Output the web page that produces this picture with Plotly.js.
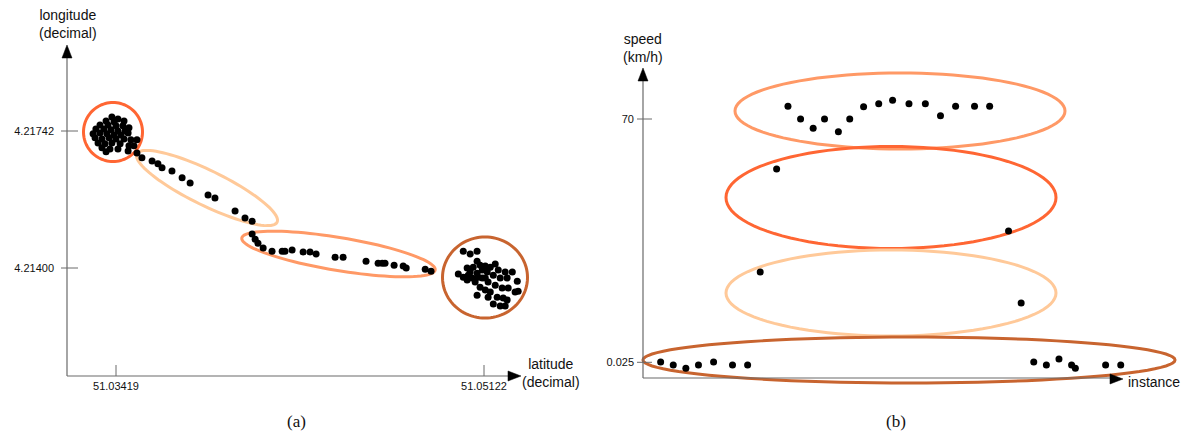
<!DOCTYPE html>
<html><head><meta charset="utf-8">
<script src="https://cdn.plot.ly/plotly-3.0.1.min.js"></script>
<style>html,body{margin:0;padding:0;background:#fff}</style>
</head><body><div id="chart" style="width:1192px;height:437px"></div>
<script>
// ---------- data (a): GPS positions ----------
const stop1Lat = [51.03400,51.03428,51.03373,51.03410,51.03456,51.03345,51.03382,51.03419,51.03451,51.03479,51.03326,51.03363,51.03396,51.03428,51.03461,51.03313,51.03345,51.03377,51.03410,51.03442,51.03475,51.03322,51.03354,51.03387,51.03419,51.03456,51.03488,51.03516,51.03336,51.03368,51.03400,51.03438,51.03479,51.03502,51.03354,51.03391,51.03428,51.03373,51.03475];
const stop1Lon = [4.21777,4.21772,4.21767,4.21765,4.21767,4.21757,4.21757,4.21755,4.21755,4.21750,4.21747,4.21747,4.21745,4.21742,4.21742,4.21735,4.21737,4.21735,4.21732,4.21732,4.21737,4.21725,4.21722,4.21725,4.21722,4.21722,4.21720,4.21720,4.21712,4.21710,4.21712,4.21710,4.21705,4.21705,4.21700,4.21697,4.21697,4.21690,4.21692];
const trailLat = [51.03516,51.03539,51.03586,51.03613,51.03632,51.03678,51.03725,51.03762,51.03845,51.03877,51.03970,51.04016,51.04049];
const trailLon = [4.21687,4.21675,4.21667,4.21660,4.21650,4.21642,4.21625,4.21612,4.21582,4.21575,4.21542,4.21525,4.21517];
const trackLat = [51.04049,51.04063,51.04076,51.04100,51.04141,51.04188,51.04201,51.04234,51.04285,51.04317,51.04345,51.04433,51.04470,51.04576,51.04632,51.04651,51.04664,51.04706,51.04748,51.04762,51.04850,51.04877];
const trackLon = [4.21485,4.21472,4.21462,4.21450,4.21442,4.21442,4.21442,4.21445,4.21440,4.21440,4.21435,4.21427,4.21427,4.21417,4.21412,4.21412,4.21412,4.21407,4.21405,4.21400,4.21397,4.21392];
const stop2Lat = [51.05026,51.05058,51.05090,51.05090,51.05044,51.05003,51.05026,51.05058,51.05072,51.05104,51.05128,51.05151,51.05174,51.05188,51.05220,51.05229,51.05197,51.05165,51.05137,51.05114,51.05090,51.05067,51.05044,51.05081,51.05114,51.05141,51.05174,51.05206,51.05234,51.05266,51.05280,51.05104,51.05128,51.05151,51.05183,51.05211,51.05229,51.05165,51.05197,51.05220,51.05090,51.05141,51.05049,51.05128,51.05095,51.05253,51.05276];
const stop2Lon = [4.21442,4.21435,4.21442,4.21417,4.21400,4.21385,4.21377,4.21390,4.21402,4.21407,4.21405,4.21402,4.21410,4.21395,4.21390,4.21375,4.21375,4.21382,4.21390,4.21395,4.21387,4.21375,4.21370,4.21365,4.21375,4.21365,4.21357,4.21350,4.21350,4.21340,4.21342,4.21352,4.21345,4.21340,4.21327,4.21325,4.21320,4.21310,4.21305,4.21305,4.21332,4.21327,4.21382,4.21375,4.21377,4.21390,4.21367];
const latTicks = [51.03419, 51.05122];
const latTickLabels = ['51.03419', '51.05122'];
const lonTicks = [4.21400, 4.21742];
const lonTickLabels = ['4.21400', '4.21742'];

// ---------- data (b): speed per instance ----------
const instance = [1.4,2.4,3.4,4.4,5.6,7.1,8.3,9.3,10.6,11.5,12.5,13.5,14.4,15.5,16.4,17.5,18.7,19.8,21.1,22.4,23.6,24.8,26.3,27.5,29.0,30.0,31.0,32.0,33.0,34.0,34.3,36.7,37.9];
const speed = [0.11,-0.75,-1.70,-0.75,0.11,-0.75,-0.75,25.99,55.62,73.65,70.0,67.33,70.0,66.35,70.0,73.54,74.40,75.38,74.40,74.40,70.95,73.65,73.65,73.65,37.79,17.08,0.11,-0.75,0.97,-0.75,-1.70,-0.75,-0.75];
const speedTicks = [0.025, 70];
const speedTickLabels = ['0.025', '70'];

// ---------- layout geometry (pixels) ----------
const W = 1192, H = 437;
const px2x = p => p / W, py2y = p => 1 - p / H;
const lin = (p, p0, v0, p1, v1) => v0 + (p - p0) * (v1 - v0) / (p1 - p0);
const FONT = 'Liberation Sans, Arial, sans-serif';
const SERIF = 'Liberation Serif, Times New Roman, serif';

// panel a box
const A = {x0: 67, x1: 521, y0: 45, y1: 376};
const xr1 = [lin(A.x0, 116, latTicks[0], 484, latTicks[1]), lin(A.x1, 116, latTicks[0], 484, latTicks[1])];
const yr1 = [lin(A.y1, 268, lonTicks[0], 131, lonTicks[1]), lin(A.y0, 268, lonTicks[0], 131, lonTicks[1])];
// panel b box
const B = {x0: 643, x1: 1122, y0: 68, y1: 378};
const xr2 = [0, 38];
const yr2 = [lin(B.y1, 362.3, speedTicks[0], 119, speedTicks[1]), lin(B.y0, 362.3, speedTicks[0], 119, speedTicks[1])];

function ellipsePath(cx, cy, rx, ry, deg) {
  const a = deg * Math.PI / 180, n = 96;
  let d = '';
  for (let i = 0; i <= n; i++) {
    const t = 2 * Math.PI * i / n;
    const x = cx + rx * Math.cos(t) * Math.cos(a) - ry * Math.sin(t) * Math.sin(a);
    const y = cy + rx * Math.cos(t) * Math.sin(a) + ry * Math.sin(t) * Math.cos(a);
    d += (i === 0 ? 'M' : 'L') + px2x(x).toFixed(6) + ',' + py2y(y).toFixed(6);
  }
  return d + 'Z';
}
function ell(cx, cy, rx, ry, deg, color) {
  return {type: 'path', xref: 'paper', yref: 'paper', layer: 'below',
    path: ellipsePath(cx, cy, rx, ry, deg), line: {color: color, width: 3}};
}
function seg(x0, y0, x1, y1, color, w) {
  return {type: 'line', xref: 'paper', yref: 'paper', x0: px2x(x0), y0: py2y(y0), x1: px2x(x1), y1: py2y(y1),
    line: {color: color, width: w}};
}
function tri(pts) {
  let d = pts.map((p, i) => (i ? 'L' : 'M') + px2x(p[0]).toFixed(6) + ',' + py2y(p[1]).toFixed(6)).join('') + 'Z';
  return {type: 'path', xref: 'paper', yref: 'paper', path: d, fillcolor: '#000', line: {color: '#000', width: 0.5}};
}

const C_RED = '#FF6633', C_PEACH = '#FFC999', C_SALMON = '#FF9966', C_BROWN = '#C8642F';
const AX = '#6a6a6a';

const shapes = [
  // panel a ellipses
  ell(113, 132, 29.5, 29.5, 0, C_RED),
  ell(207, 188, 78, 17.5, 26, C_PEACH),
  ell(338.5, 254, 98, 16.5, 9.4, C_SALMON),
  ell(485, 277.5, 42.5, 40.5, 0, C_BROWN),
  // panel b ellipses
  ell(900, 111, 165, 38, 0, C_SALMON),
  ell(891, 197.5, 165, 51, 0, C_RED),
  ell(891, 293, 165, 43, 0, C_PEACH),
  ell(909, 360, 266, 23, 0, C_BROWN),
  // axes a
  seg(A.x0, A.y1, A.x0, 57, AX, 1.2),
  seg(A.x0, A.y1, 509, A.y1, AX, 1.2),
  tri([[67, 45], [62, 58], [72, 58]]),
  tri([[521, 376], [508, 371], [508, 381]]),
  // axes b
  seg(B.x0, B.y1, B.x0, 80, AX, 1.2),
  seg(B.x0, B.y1, 1110, B.y1, AX, 1.2),
  tri([[643, 68], [638, 81], [648, 81]]),
  tri([[1123, 379], [1110, 374], [1110, 384]])
];
// tick marks from tick arrays
lonTicks.forEach(v => shapes.push({type: 'line', xref: 'paper', yref: 'y', x0: px2x(61), x1: px2x(78), y0: v, y1: v, line: {color: AX, width: 1}}));
latTicks.forEach(v => shapes.push({type: 'line', xref: 'x', yref: 'paper', x0: v, x1: v, y0: py2y(376), y1: py2y(365), line: {color: AX, width: 1}}));
speedTicks.forEach(v => shapes.push({type: 'line', xref: 'paper', yref: 'y2', x0: px2x(637), x1: px2x(652), y0: v, y1: v, line: {color: AX, width: 1}}));

const mk = {color: '#000', size: 7, line: {width: 0}};
const traces = [
  {x: stop1Lat, y: stop1Lon, mode: 'markers', marker: mk, xaxis: 'x', yaxis: 'y', cliponaxis: false, hoverinfo: 'x+y'},
  {x: trailLat, y: trailLon, mode: 'markers', marker: mk, xaxis: 'x', yaxis: 'y', cliponaxis: false},
  {x: trackLat, y: trackLon, mode: 'markers', marker: mk, xaxis: 'x', yaxis: 'y', cliponaxis: false},
  {x: stop2Lat, y: stop2Lon, mode: 'markers', marker: mk, xaxis: 'x', yaxis: 'y', cliponaxis: false},
  {x: instance, y: speed, mode: 'markers', marker: mk, xaxis: 'x2', yaxis: 'y2', cliponaxis: false}
];

const axBase = {showgrid: false, zeroline: false, showline: false, ticks: '', fixedrange: true,
  tickfont: {family: FONT, size: 11, color: '#111'}};
const txt = (text, x, y, size, fam, xa) => ({text: text, x: px2x(x), y: py2y(y), xref: 'paper', yref: 'paper',
  showarrow: false, xanchor: xa || 'center', yanchor: 'middle', font: {family: fam || FONT, size: size, color: '#111'}});

const layout = {
  width: W, height: H, margin: {l: 0, r: 0, t: 0, b: 0},
  paper_bgcolor: '#fff', plot_bgcolor: 'rgba(0,0,0,0)', showlegend: false,
  xaxis: Object.assign({}, axBase, {domain: [px2x(A.x0), px2x(A.x1)], range: xr1, anchor: 'y',
    tickvals: latTicks, ticktext: latTickLabels, ticklabelstandoff: 2}),
  yaxis: Object.assign({}, axBase, {domain: [py2y(A.y1), py2y(A.y0)], range: yr1, anchor: 'x',
    tickvals: lonTicks, ticktext: lonTickLabels, ticklabelstandoff: 12}),
  xaxis2: Object.assign({}, axBase, {domain: [px2x(B.x0), px2x(B.x1)], range: xr2, anchor: 'y2', showticklabels: false}),
  yaxis2: Object.assign({}, axBase, {domain: [py2y(B.y1), py2y(B.y0)], range: yr2, anchor: 'x2',
    tickvals: speedTicks, ticktext: speedTickLabels, ticklabelstandoff: 8}),
  shapes: shapes,
  annotations: [
    txt('longitude<br>(decimal)', 68, 24, 14),
    txt('latitude<br>(decimal)', 551, 373, 14),
    txt('speed<br>(km/h)', 643, 48, 14),
    txt('instance', 1154, 382, 14),
    txt('(a)', 296, 421, 17, SERIF),
    txt('(b)', 896, 421, 17, SERIF)
  ]
};
Plotly.newPlot('chart', traces, layout, {staticPlot: true, displayModeBar: false});
</script></body></html>
